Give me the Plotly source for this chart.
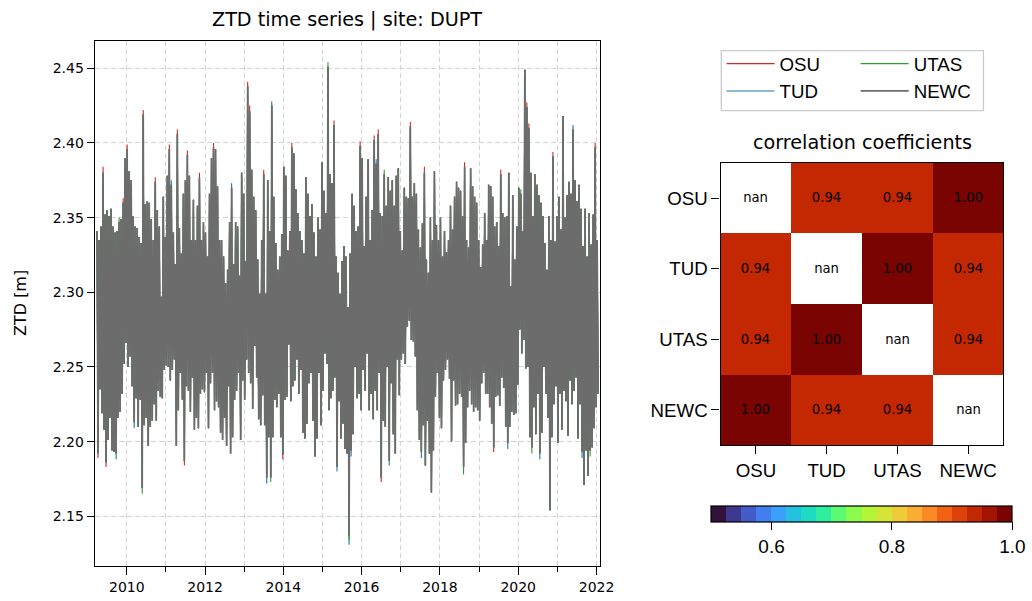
import math
import pandas as pd
import plotly.graph_objects as go
from plotly.colors import sample_colorscale

# ---------------- data ----------------
site = "DUPT"
series_names = ["OSU", "TUD", "UTAS", "NEWC"]
first_day = "2009-03-29"
last_day = "2022-01-16"

# NEWC zenith total delay [m]: alternating local maxima / minima, in time order
peaks_2009_2012 = [
    2.341, 2.335, 2.344, 2.380, 2.352, 2.355, 2.351, 2.356, 2.344, 2.340,
    2.341, 2.347, 2.349, 2.360, 2.390, 2.396, 2.381, 2.375, 2.351, 2.344,
    2.343, 2.337, 2.333, 2.419, 2.359, 2.361, 2.360, 2.349, 2.335, 2.374,
    2.355, 2.344, 2.297, 2.364, 2.337, 2.378, 2.396, 2.372, 2.340, 2.319,
    2.406, 2.343, 2.326, 2.366, 2.375, 2.392, 2.378, 2.335, 2.362, 2.335,
    2.358, 2.377, 2.335, 2.347, 2.340, 2.324, 2.366, 2.390, 2.397, 2.396,
    2.371, 2.335]
troughs_2009_2012 = [
    2.192, 2.235, 2.219, 2.208, 2.186, 2.201, 2.216, 2.194, 2.193, 2.192,
    2.216, 2.220, 2.232, 2.252, 2.266, 2.250, 2.257, 2.237, 2.213, 2.229,
    2.210, 2.228, 2.169, 2.211, 2.216, 2.197, 2.210, 2.214, 2.225, 2.214,
    2.234, 2.230, 2.229, 2.248, 2.251, 2.250, 2.241, 2.248, 2.255, 2.197,
    2.221, 2.246, 2.228, 2.187, 2.237, 2.234, 2.220, 2.243, 2.208, 2.216,
    2.209, 2.232, 2.235, 2.233, 2.246, 2.209, 2.239, 2.246, 2.221, 2.227,
    2.223, 2.206]
peaks_2012_2015 = [
    2.335, 2.324, 2.306, 2.315, 2.347, 2.370, 2.319, 2.347, 2.344, 2.311,
    2.380, 2.366, 2.321, 2.438, 2.421, 2.382, 2.364, 2.355, 2.322, 2.299,
    2.335, 2.379, 2.299, 2.375, 2.341, 2.425, 2.364, 2.333, 2.315, 2.324,
    2.339, 2.384, 2.378, 2.328, 2.341, 2.397, 2.393, 2.369, 2.353, 2.341,
    2.335, 2.326, 2.377, 2.366, 2.351, 2.359, 2.340, 2.324, 2.350, 2.342,
    2.387, 2.368, 2.353, 2.451, 2.379, 2.373, 2.412, 2.324, 2.313, 2.299,
    2.321, 2.331, 2.324, 2.290]
troughs_2012_2015 = [
    2.201, 2.216, 2.197, 2.237, 2.192, 2.203, 2.228, 2.234, 2.246, 2.201,
    2.241, 2.228, 2.255, 2.246, 2.239, 2.222, 2.264, 2.243, 2.215, 2.211,
    2.231, 2.211, 2.176, 2.203, 2.176, 2.203, 2.228, 2.223, 2.232, 2.203,
    2.191, 2.228, 2.230, 2.265, 2.227, 2.237, 2.241, 2.255, 2.232, 2.248,
    2.206, 2.202, 2.212, 2.239, 2.246, 2.214, 2.190, 2.202, 2.246, 2.211,
    2.234, 2.259, 2.252, 2.221, 2.229, 2.234, 2.243, 2.183, 2.227, 2.202,
    2.212, 2.195, 2.192, 2.137]
peaks_2015_2018 = [
    2.326, 2.366, 2.358, 2.341, 2.344, 2.398, 2.390, 2.331, 2.364, 2.389,
    2.335, 2.355, 2.402, 2.386, 2.406, 2.353, 2.351, 2.379, 2.358, 2.377,
    2.368, 2.375, 2.358, 2.378, 2.383, 2.341, 2.328, 2.370, 2.364, 2.363,
    2.411, 2.364, 2.373, 2.366, 2.342, 2.330, 2.346, 2.380, 2.322, 2.313,
    2.350, 2.335, 2.381, 2.345, 2.335, 2.350, 2.324, 2.341, 2.327, 2.335,
    2.358, 2.342, 2.364, 2.374, 2.370, 2.368, 2.351, 2.384, 2.335, 2.330,
    2.383, 2.371, 2.364, 2.360]
troughs_2015_2018 = [
    2.194, 2.205, 2.250, 2.229, 2.232, 2.221, 2.248, 2.234, 2.259, 2.221,
    2.232, 2.215, 2.234, 2.221, 2.246, 2.176, 2.214, 2.210, 2.250, 2.187,
    2.239, 2.205, 2.192, 2.255, 2.231, 2.255, 2.259, 2.252, 2.277, 2.281,
    2.268, 2.267, 2.257, 2.221, 2.201, 2.193, 2.211, 2.184, 2.214, 2.192,
    2.166, 2.194, 2.230, 2.246, 2.216, 2.209, 2.241, 2.248, 2.255, 2.242,
    2.200, 2.241, 2.224, 2.225, 2.232, 2.230, 2.183, 2.199, 2.223, 2.234,
    2.225, 2.220, 2.223, 2.221]
peaks_2018_2022 = [
    2.335, 2.317, 2.332, 2.353, 2.335, 2.372, 2.371, 2.364, 2.344, 2.347,
    2.331, 2.379, 2.353, 2.350, 2.351, 2.380, 2.304, 2.365, 2.322, 2.344,
    2.370, 2.366, 2.341, 2.449, 2.424, 2.410, 2.380, 2.351, 2.379, 2.372,
    2.365, 2.360, 2.351, 2.333, 2.315, 2.351, 2.335, 2.391, 2.334, 2.351,
    2.364, 2.342, 2.418, 2.350, 2.365, 2.374, 2.366, 2.409, 2.375, 2.361,
    2.372, 2.356, 2.331, 2.356, 2.324, 2.353, 2.332, 2.352, 2.397, 2.335]
troughs_2018_2022 = [
    2.214, 2.239, 2.246, 2.232, 2.232, 2.223, 2.212, 2.196, 2.230, 2.231,
    2.224, 2.243, 2.236, 2.210, 2.199, 2.210, 2.220, 2.218, 2.219, 2.238,
    2.275, 2.259, 2.268, 2.249, 2.250, 2.203, 2.196, 2.223, 2.205, 2.232,
    2.192, 2.206, 2.250, 2.232, 2.216, 2.154, 2.203, 2.225, 2.237, 2.199,
    2.232, 2.208, 2.234, 2.227, 2.204, 2.241, 2.225, 2.234, 2.243, 2.202,
    2.225, 2.193, 2.171, 2.194, 2.177, 2.194, 2.196, 2.209, 2.223, 2.232]

# where the other solutions stick out beyond NEWC (index of peak / trough -> value [m])
osu_peak_tips = {3: 2.384, 13: 2.363, 15: 2.399, 23: 2.422, 29: 2.377, 36: 2.399,
                 40: 2.409, 45: 2.395, 51: 2.380, 58: 2.400, 75: 2.441, 76: 2.425,
                 83: 2.382, 97: 2.400, 118: 2.415, 131: 2.401, 138: 2.405, 140: 2.409,
                 156: 2.414, 163: 2.384, 183: 2.387, 201: 2.382, 214: 2.427, 215: 2.413,
                 227: 2.394, 248: 2.400}
osu_trough_tips = {0: 2.189, 4: 2.183, 43: 2.184, 92: 2.188, 141: 2.173, 197: 2.193}
tud_peak_tips = {37: 2.375, 67: 2.373, 87: 2.428, 139: 2.389, 237: 2.412}
tud_trough_tips = {9: 2.188, 18: 2.209, 84: 2.172, 119: 2.180, 125: 2.131, 126: 2.190,
                   145: 2.184, 161: 2.189, 204: 2.195, 220: 2.188, 241: 2.189}
utas_peak_tips = {11: 2.350, 115: 2.454, 143: 2.382, 211: 2.369}
utas_trough_tips = {22: 2.165, 86: 2.173, 125: 2.134, 182: 2.178, 216: 2.192, 245: 2.190}

# correlation coefficients (rows / columns in series_names order)
corr_values = [
    [math.nan, 0.94, 0.94, 1.00],
    [0.94, math.nan, 1.00, 0.94],
    [0.94, 1.00, math.nan, 0.94],
    [1.00, 0.94, 0.94, math.nan],
]
cbar_min, cbar_max, cbar_bins = 0.5, 1.0, 20
cbar_ticks = [0.6, 0.8, 1.0]

# ---------------- assemble ----------------
newc_peaks = peaks_2009_2012 + peaks_2012_2015 + peaks_2015_2018 + peaks_2018_2022
newc_troughs = troughs_2009_2012 + troughs_2012_2015 + troughs_2015_2018 + troughs_2018_2022
dates = pd.date_range(first_day, last_day, periods=2 * len(newc_peaks))


def series_from(peak_tips, trough_tips):
    p = list(newc_peaks)
    t = list(newc_troughs)
    for k, v in peak_tips.items():
        p[k] = v
    for k, v in trough_tips.items():
        t[k] = v
    out = []
    for a, b in zip(p, t):
        out.extend([a, b])
    return out


series_values = {
    "OSU": series_from(osu_peak_tips, osu_trough_tips),
    "TUD": series_from(tud_peak_tips, tud_trough_tips),
    "UTAS": series_from(utas_peak_tips, utas_trough_tips),
    "NEWC": series_from({}, {}),
}

# ---------------- styling ----------------
W, H = 1032, 601
KX = 1047 / 1032   # horizontal layout factor measured from the rendered page
colors = {"OSU": "#d62728", "TUD": "#1f77b4", "UTAS": "#2ca02c", "NEWC": "#6c6c6c"}
widths = {"OSU": 1.1, "TUD": 1.1, "UTAS": 1.1, "NEWC": 1.7}
legend_of = {"OSU": "legend", "TUD": "legend", "UTAS": "legend2", "NEWC": "legend2"}
MPL = "DejaVu Sans"
ARIAL = "Liberation Sans"
grid_col = "#d4d4d4"


def px_x(p):
    return p * KX / W


def px_y(p):
    return 1 - p / H


fig = go.Figure()
for name in series_names:
    fig.add_trace(go.Scatter(
        x=dates, y=series_values[name], mode="lines", name=name,
        line=dict(color=colors[name], width=widths[name]),
        legend=legend_of[name], xaxis="x", yaxis="y", hoverinfo="skip"))

turbo = sample_colorscale("Turbo", [i / (cbar_bins - 1) for i in range(cbar_bins)])
cscale = []
for i, c in enumerate(turbo):
    cscale.append([i / cbar_bins, c])
    cscale.append([(i + 1) / cbar_bins, c])

cell_text = [[f"{v:.2f}" for v in row] for row in corr_values]
fig.add_trace(go.Heatmap(
    z=corr_values, x=series_names, y=series_names, xaxis="x2", yaxis="y2",
    zmin=cbar_min, zmax=cbar_max, colorscale=cscale, showscale=True,
    text=cell_text, texttemplate="%{text}",
    textfont=dict(family=MPL, size=13.2, color="black"),
    hoverinfo="skip", xgap=0, ygap=0,
    colorbar=dict(orientation="h", x=px_x(861.2), xanchor="center",
                  y=px_y(505.7), yanchor="top", len=301 * KX / W, lenmode="fraction",
                  thickness=16, thicknessmode="pixels", outlinewidth=1.2,
                  outlinecolor="black", tickvals=cbar_ticks, tickformat=".1f",
                  ticks="outside", ticklen=8, tickcolor="black", tickwidth=1.2,
                  tickfont=dict(family=ARIAL, size=19, color="black"),
                  xpad=0, ypad=0),
))

axis_common = dict(showline=True, linecolor="black", linewidth=1.3, mirror=True,
                   ticks="outside", tickcolor="black", tickwidth=1.3, zeroline=False)

legend_common = dict(xanchor="left", yanchor="top", orientation="v",
                     bgcolor="rgba(0,0,0,0)", borderwidth=0,
                     font=dict(family=ARIAL, size=18.7, color="black"),
                     itemwidth=48, tracegroupgap=0)

fig.update_layout(
    width=W, height=H, margin=dict(l=0, r=0, t=0, b=0),
    paper_bgcolor="white", plot_bgcolor="white",
    font=dict(family=MPL, color="black"),
    xaxis=dict(domain=[px_x(94.7), px_x(599.5)], type="date", anchor="y",
               range=["2009-03-08", "2022-02-02"], dtick="M24", tick0="2010-01-01",
               tickformat="%Y", ticklen=8, showgrid=True, gridcolor=grid_col,
               griddash="5px,3px", gridwidth=1.2,
               tickfont=dict(family=MPL, size=14, color="black"),
               minor=dict(dtick="M12", tick0="2009-01-01", ticks="outside", ticklen=5,
                          tickcolor="black", tickwidth=1, showgrid=True,
                          gridcolor=grid_col, griddash="5px,3px", gridwidth=1.2),
               **axis_common),
    yaxis=dict(domain=[px_y(566), px_y(40.5)], anchor="x", range=[2.1167, 2.4686],
               dtick=0.05, tick0=2.15, tickformat=".2f", ticklen=7, showgrid=True,
               gridcolor=grid_col, griddash="5px,3px", gridwidth=1.2,
               tickfont=dict(family=MPL, size=14, color="black"), **axis_common),
    xaxis2=dict(domain=[px_x(720), px_x(1002.7)], anchor="y2", showgrid=False,
                ticklen=8, tickfont=dict(family=ARIAL, size=18.7, color="black"),
                **axis_common),
    yaxis2=dict(domain=[px_y(445.3), px_y(162.7)], anchor="x2", showgrid=False,
                autorange="reversed", ticklen=8,
                tickfont=dict(family=ARIAL, size=18.7, color="black"), **axis_common),
    legend=dict(x=px_x(721), y=px_y(45), **legend_common),
    legend2=dict(x=px_x(855), y=px_y(45), **legend_common),
    shapes=[dict(type="rect", xref="paper", yref="paper",
                 x0=px_x(720.7), x1=px_x(982.7), y0=px_y(110.7), y1=px_y(50.7),
                 line=dict(color="#cccccc", width=1.3),
                 fillcolor="rgba(255,255,255,0.8)", layer="below")],
    annotations=[
        dict(text=f"ZTD time series | site: {site}", xref="paper", yref="paper",
             x=px_x(347.1), y=px_y(20), xanchor="center", yanchor="middle",
             showarrow=False, font=dict(family=MPL, size=19.2, color="black")),
        dict(text="correlation coefficients", xref="paper", yref="paper",
             x=px_x(861.4), y=px_y(142), xanchor="center", yanchor="middle",
             showarrow=False, font=dict(family=MPL, size=19.2, color="black")),
        dict(text="ZTD [m]", xref="paper", yref="paper", textangle=-90,
             x=px_x(20), y=px_y(303), xanchor="center", yanchor="middle",
             showarrow=False, font=dict(family=MPL, size=16, color="black")),
    ],
    showlegend=True,
)

# fit the figure to the page's visible area (no body margin, no scrollbars)
fit_script = """
(function(){
  var gd = document.getElementById('{plot_id}');
  document.documentElement.style.overflow = 'hidden';
  document.body.style.margin = '0px';
  document.body.style.padding = '0px';
  document.body.style.overflow = 'hidden';
  var cw = document.documentElement.clientWidth;
  var ch = document.documentElement.clientHeight;
  if (cw !== gd.layout.width || ch !== gd.layout.height) {
    Plotly.relayout(gd, {width: cw, height: ch});
  }
})();
"""
fig.write_html("out.html", config={"displayModeBar": False, "responsive": False},
               post_script=fit_script)
